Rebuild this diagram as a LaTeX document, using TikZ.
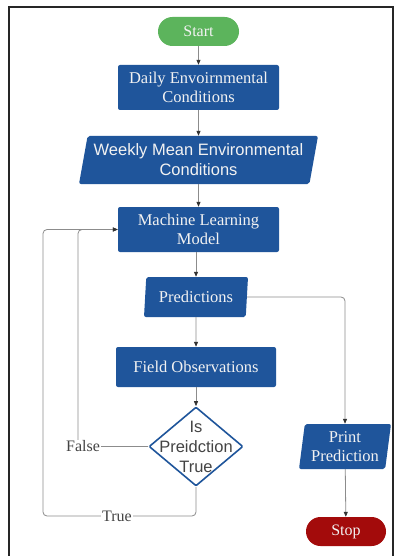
\documentclass[tikz,border=0pt]{standalone}
\usepackage{fontspec}
\setmainfont{Liberation Serif}
\newfontfamily\arialfont{Liberation Sans}
\usetikzlibrary{shapes.geometric,shapes.misc,arrows.meta}
\definecolor{fcblue}{HTML}{1F559B}
\definecolor{fcgreen}{HTML}{5CB45C}
\definecolor{fcred}{HTML}{A30B0B}
\definecolor{fcline}{HTML}{8C8C8C}
\definecolor{fctext}{HTML}{F2F2F2}
\definecolor{fclabel}{HTML}{444444}
\tikzset{
  procbox/.style={rectangle, rounded corners=2pt, fill=fcblue, text=fctext,
    align=center, inner sep=0pt, font=\fontsize{16.5}{19}\selectfont},
  iobox/.style={trapezium, trapezium stretches body, rounded corners=2pt,
    fill=fcblue, text=fctext, align=center, inner sep=0pt},
  termbox/.style={rounded rectangle, text=fctext, inner sep=0pt,
    font=\fontsize{16}{19}\selectfont},
  decbox/.style={diamond, draw=fcblue, line width=1.6pt, fill=white,
    inner sep=0pt, rounded corners=1pt},
  dectext/.style={text=fclabel, align=center, inner sep=0pt,
    font=\arialfont\fontsize{16.5}{20}\selectfont},
  conn/.style={draw=fcline, line width=0.8pt, rounded corners=4pt,
    -{Triangle[length=5pt,width=4pt,fill=black!80,color=black!80]}},
  lbl/.style={fill=white, text=fclabel, inner sep=1pt,
    font=\fontsize{16}{19}\selectfont},
}
\begin{document}
\begin{tikzpicture}[x=1pt,y=-1pt]
\useasboundingbox (0,0) rectangle (401,556);
\fill[white] (0,0) rectangle (401,556);
\draw[line width=1.5pt, black!85] (9,556) -- (9,7) -- (393,7) -- (393,556);

\node[termbox, fill=fcgreen, minimum width=81pt, minimum height=29pt] (start) at (198.5,31.5) {Start};
\node[procbox, minimum width=161pt, minimum height=45pt] (daily) at (198.5,87.5) {Daily Envoirnmental\\Conditions};
\node[iobox, trapezium left angle=75, trapezium right angle=105,
  minimum width=239pt, minimum height=48pt,
  font=\arialfont\fontsize{16.5}{20}\selectfont] (weekly) at (198.5,160) {Weekly Mean Environmental\\Conditions};
\node[procbox, minimum width=161pt, minimum height=45pt] (ml) at (198.5,229.5) {Machine Learning\\Model};
\node[iobox, trapezium left angle=79, trapezium right angle=101,
  minimum width=104pt, minimum height=40pt,
  font=\fontsize{16.5}{19}\selectfont] (pred) at (196,297) {Predictions};
\node[procbox, minimum width=160pt, minimum height=40pt] (field) at (196,367) {Field Observations};
\node[decbox, minimum width=94pt, minimum height=79pt] (dec) at (196,446.5) {};
\node[dectext] (dectxt) at (196,446.5) {Is\\Preidction\\True};
\node[iobox, trapezium left angle=79, trapezium right angle=101,
  minimum width=92pt, minimum height=45pt,
  font=\fontsize{16.5}{19}\selectfont] (print) at (345,446.5) {Print\\Prediction};
\node[termbox, fill=fcred, minimum width=80pt, minimum height=29pt] (stop) at (346,531.5) {Stop};

\coordinate (fcorner) at (78,446.5);
\coordinate (tcornerA) at (196,516);
\coordinate (tcornerB) at (43,516);

\draw[conn] (start) -- (daily);
\draw[conn] (daily) -- (weekly);
\draw[conn] (weekly) -- (ml);
\draw[conn] (pred.north |- ml.south) -- (pred.north);
\draw[conn] (pred) -- (field);
\draw[conn] (field) -- (dec);
\draw[conn] (pred.east) -- (print.north |- pred.east) -- (print.north);
\draw[conn] (print) -- (stop);
\draw[conn] (dec.west) -- (fcorner) -- (fcorner |- ml.west) -- (ml.west);
\draw[conn] (dec.south) -- (tcornerA) -- (tcornerB) -- (tcornerB |- ml.west) -- (ml.west);
\node[lbl] (flbl) at (83,446.5) {False};
\node[lbl] (tlbl) at (117,516) {True};
\end{tikzpicture}
\end{document}
